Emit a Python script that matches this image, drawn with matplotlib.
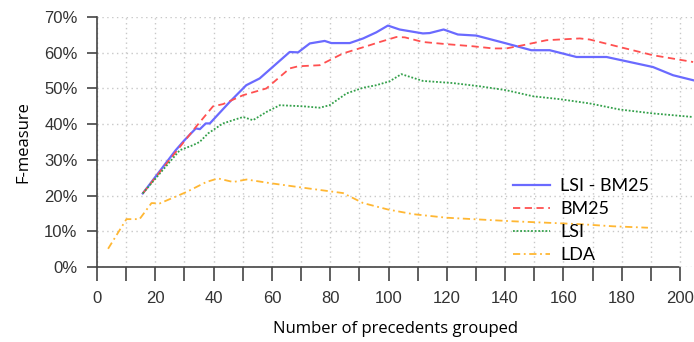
import numpy as np
import matplotlib
matplotlib.use('Agg')
import matplotlib.pyplot as plt
from matplotlib.ticker import MultipleLocator, FuncFormatter

# данные (x - число прецедентов, y - F-measure в долях)
lsi_bm25_x = [15.7, 27, 30, 33.9, 35.3, 37.3, 38.7, 45.5, 51.2, 55.8, 66.1, 69, 73, 78.1, 80.4,
              86.7, 91.3, 95.8, 99.8, 103.8, 111.8, 114.1, 118.9, 123.8, 130.1, 140.4, 149,
              155.3, 164.5, 174.8, 190.7, 197.6, 204.5]
lsi_bm25_y = [0.206, 0.327, 0.355, 0.388, 0.386, 0.402, 0.402, 0.462, 0.509, 0.528, 0.602, 0.601,
              0.626, 0.633, 0.627, 0.627, 0.640, 0.657, 0.676, 0.665, 0.654, 0.655, 0.665, 0.651,
              0.648, 0.626, 0.607, 0.607, 0.588, 0.588, 0.560, 0.537, 0.523]

bm25_x = [15.7, 33.9, 39.8, 43.2, 50.1, 58.1, 66.1, 69, 76.4, 84.4, 92.4, 97, 102.7, 105.6,
          111.8, 119.9, 129, 135.9, 140.4, 146.1, 154.2, 165.6, 169, 179.3, 190.7, 204.5]
bm25_y = [0.206, 0.392, 0.450, 0.456, 0.481, 0.500, 0.556, 0.562, 0.565, 0.598, 0.618, 0.630,
          0.644, 0.643, 0.630, 0.624, 0.618, 0.612, 0.612, 0.621, 0.635, 0.640, 0.637, 0.616,
          0.593, 0.574]

lsi_x = [15.7, 28.4, 32.9, 35.2, 38.1, 43.2, 50.1, 53.5, 58.1, 62.7, 70.7, 76.4, 79.8, 85.6,
         91.3, 95.8, 100.4, 104.4, 111.8, 122.1, 131.3, 140.4, 149.6, 158.7, 169, 179.3, 190.7,
         204.5]
lsi_y = [0.206, 0.327, 0.341, 0.350, 0.374, 0.402, 0.420, 0.411, 0.434, 0.453, 0.450, 0.446,
         0.453, 0.486, 0.502, 0.509, 0.520, 0.540, 0.521, 0.515, 0.506, 0.495, 0.478, 0.470,
         0.458, 0.441, 0.430, 0.420]

lda_x = [3.8, 10.1, 14.6, 18.7, 21.5, 26.1, 30.7, 37.5, 41.5, 46.7, 51.3, 59.2, 70.7, 84.4,
         91.3, 99.8, 108.4, 119.9, 131.3, 142.7, 154.2, 165.6, 177, 189]
lda_y = [0.051, 0.134, 0.134, 0.179, 0.178, 0.194, 0.210, 0.238, 0.248, 0.238, 0.245, 0.235,
         0.222, 0.207, 0.179, 0.161, 0.148, 0.138, 0.133, 0.128, 0.124, 0.120, 0.114, 0.110]

fig = plt.figure(figsize=(6.94, 3.42), dpi=100)
ax = fig.add_axes([97 / 694, 1 - 267 / 342, 597 / 694, 250 / 342])

ax.plot(lsi_bm25_x, lsi_bm25_y, color='#6a6aff', lw=1.6, ls='-', label='LSI - BM25')
ax.plot(bm25_x, bm25_y, color='#ff5050', lw=1.3, ls=(0, (4, 2.5)), label='BM25')
ax.plot(lsi_x, lsi_y, color='#33a04a', lw=1.3, ls=(0, (1, 1)), label='LSI')
ax.plot(lda_x, lda_y, color='#ffb733', lw=1.3, ls=(0, (4, 2, 1, 2)), label='LDA')

ax.set_xlim(0, 204.8)
ax.set_ylim(0, 0.70)
ax.yaxis.set_major_locator(MultipleLocator(0.1))
ax.set_xticks(np.arange(0, 201, 10))
ax.xaxis.set_major_formatter(FuncFormatter(lambda v, p: f'{v:.0f}' if round(v) % 20 == 0 else ''))
ax.yaxis.set_major_formatter(FuncFormatter(lambda v, p: f'{v * 100:.0f}%'))

ax.grid(True, color='#c8c8c8', ls=(0, (1, 2.5)), lw=1)
ax.set_axisbelow(True)

for s in ['top', 'right']:
    ax.spines[s].set_visible(False)
for s in ['left', 'bottom']:
    ax.spines[s].set_color('#444444')
    ax.spines[s].set_linestyle((0, (1.5, 1)))
    ax.spines[s].set_linewidth(1.2)
ax.spines['bottom'].set_bounds(0, 200)

ax.tick_params(axis='both', colors='#444444', width=1.2, labelsize=12, labelcolor='#333333')
ax.tick_params(axis='x', length=10, pad=7)
ax.tick_params(axis='y', length=7, pad=7)
for lab in ax.get_xticklabels() + ax.get_yticklabels():
    lab.set_fontfamily('Liberation Sans')

ax.set_xlabel('Number of precedents grouped', fontsize=12, family='Open Sans', labelpad=11)
ax.set_ylabel('F-measure', fontsize=12, family='Open Sans', labelpad=9)

ax.legend(loc='lower left', bbox_to_anchor=((513 - 97) / 597, 0.014), frameon=False,
          prop={'family': 'Lato', 'size': 13}, handlelength=2.05,
          labelspacing=0.4, handletextpad=0.55, borderpad=0, borderaxespad=0)

fig.savefig('out.png', dpi=100)
